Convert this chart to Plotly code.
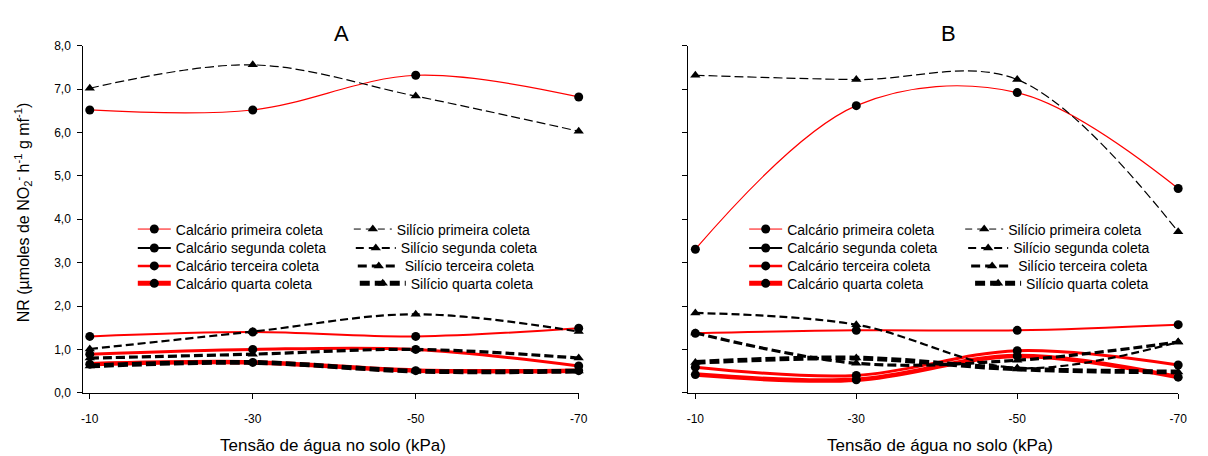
import plotly.graph_objects as go

W, H = 1208, 456

# ---------------- data ----------------
x_kpa = [-10, -30, -50, -70]
x_ticklabels = ["-10", "-30", "-50", "-70"]

calc_names = ["Calcário primeira coleta", "Calcário segunda coleta",
              "Calcário terceira coleta", "Calcário quarta coleta"]
sil_names = ["Silício primeira coleta", "Silício segunda coleta",
             "Silício terceira coleta", "Silício quarta coleta"]

# Panel A
calc1_A = [6.52, 6.52, 7.32, 6.82]
calc2_A = [1.30, 1.40, 1.30, 1.49]
calc3_A = [0.89, 1.00, 1.00, 0.62]
calc4_A = [0.66, 0.70, 0.51, 0.51]
sil1_A = [7.02, 7.56, 6.84, 6.03]
sil2_A = [1.01, 1.41, 1.81, 1.41]
sil3_A = [0.80, 0.89, 1.00, 0.80]
sil4_A = [0.62, 0.70, 0.50, 0.50]

# Panel B
calc1_B = [3.31, 6.62, 6.92, 4.71]
calc2_B = [1.37, 1.44, 1.44, 1.57]
calc3_B = [0.59, 0.40, 0.97, 0.64]
calc4_B = [0.42, 0.30, 0.85, 0.36]
sil1_B = [7.32, 7.22, 7.22, 3.71]
sil2_B = [1.84, 1.57, 0.57, 1.17]
sil3_B = [1.38, 0.68, 0.75, 1.17]
sil4_B = [0.70, 0.80, 0.55, 0.48]

FONT = "Arial, 'Liberation Sans', sans-serif"
RED = "#ff0000"
BLK = "#000000"

# styles of plotted lines (colour, width, dash)
calc_plot_style = [(RED, 1.2, "solid"), (RED, 2.0, "solid"), (RED, 3.0, "solid"), (RED, 4.5, "solid")]
sil_plot_style = [(BLK, 1.2, "9px,4px"), (BLK, 2.2, "8px,4px"), (BLK, 3.2, "9px,4px"), (BLK, 4.8, "10px,4px")]
# styles shown in the legend
calc_leg_style = [(RED, 1.0, "solid"), (BLK, 2.0, "solid"), (RED, 2.5, "solid"), (RED, 5.0, "solid")]
sil_leg_style = [(BLK, 1.0, "7px,5px"), (BLK, 2.0, "8px,5px"), (BLK, 3.0, "9px,5px"), (BLK, 5.0, "10px,5px")]

fig = go.Figure()

def add_panel(xa, ya, calc, sil):
    for vals, (c, w, d) in zip(calc, calc_plot_style):
        fig.add_trace(go.Scatter(
            x=x_kpa, y=vals, xaxis=xa, yaxis=ya, mode="lines+markers",
            line=dict(color=c, width=w, dash=d, shape="spline", smoothing=1.0),
            marker=dict(symbol="circle", size=9, color=BLK),
            showlegend=False, cliponaxis=False, hoverinfo="skip"))
    for vals, (c, w, d) in zip(sil, sil_plot_style):
        fig.add_trace(go.Scatter(
            x=x_kpa, y=vals, xaxis=xa, yaxis=ya, mode="lines+markers",
            line=dict(color=c, width=w, dash=d, shape="spline", smoothing=1.0),
            marker=dict(symbol="triangle-up", size=9, color=BLK),
            showlegend=False, cliponaxis=False, hoverinfo="skip"))

add_panel("x", "y", [calc1_A, calc2_A, calc3_A, calc4_A], [sil1_A, sil2_A, sil3_A, sil4_A])
add_panel("x2", "y2", [calc1_B, calc2_B, calc3_B, calc4_B], [sil1_B, sil2_B, sil3_B, sil4_B])


def px(x):
    return x / W


def py(y):
    return 1 - y / H


# one single-entry legend per legend row, so each row can be placed freely
row_y = [229.5, 249.0, 267.5, 285.5]
leg_common = dict(bgcolor="rgba(0,0,0,0)", borderwidth=0, font=dict(family=FONT, size=14, color=BLK),
                  yanchor="middle", xanchor="left", itemclick=False, itemdoubleclick=False)

legend_layout = {}
leg_counter = [0]

def add_legend(xa, ya, names, styles, symbol, lefts, widths):
    for name, (c, w, d), left, iw, ry in zip(names, styles, lefts, widths, row_y):
        leg_counter[0] += 1
        lid = "legend" if leg_counter[0] == 1 else "legend%d" % leg_counter[0]
        fig.add_trace(go.Scatter(
            x=[None], y=[None], xaxis=xa, yaxis=ya, mode="lines+markers", name=name,
            line=dict(color=c, width=w, dash=d),
            marker=dict(symbol=symbol, size=9, color=BLK),
            legend=lid, showlegend=True))
        legend_layout[lid] = dict(x=px(left), y=py(ry), itemwidth=iw, **leg_common)

add_legend("x", "y", calc_names, calc_leg_style, "circle",
           [132, 132, 132, 132], [33, 33, 33, 33])
add_legend("x", "y", sil_names, sil_leg_style, "triangle-up",
           [350, 352, 354, 356], [38, 40, 42, 46])
add_legend("x2", "y2", calc_names, calc_leg_style, "circle",
           [749, 749, 749, 749], [33, 33, 33, 33])
add_legend("x2", "y2", sil_names, sil_leg_style, "triangle-up",
           [967, 970, 973, 977], [38, 40, 42, 46])

axis_common = dict(showline=True, linecolor=BLK, linewidth=1, showgrid=False, zeroline=False,
                   ticks="outside", ticklen=5, tickcolor=BLK, tickwidth=1,
                   tickfont=dict(family=FONT, size=12, color=BLK))

fig.update_layout(
    width=W, height=H, autosize=False,
    margin=dict(l=0, r=0, t=0, b=0),
    paper_bgcolor="white", plot_bgcolor="white",
    separators=",.",
    font=dict(family=FONT, color=BLK),
    xaxis=dict(domain=[px(82), px(582)], range=[-9.2, -70], tickvals=x_kpa, ticktext=x_ticklabels,
               anchor="y", ticklabelstandoff=10, **axis_common),
    yaxis=dict(domain=[py(398), py(40)], range=[0, 8], dtick=1, tick0=0, tickformat=".1f",
               anchor="x", ticklabelstandoff=4, **axis_common),
    xaxis2=dict(domain=[px(692), px(1187)], range=[-9.05, -70], tickvals=x_kpa, ticktext=x_ticklabels,
                anchor="y2", ticklabelstandoff=10, **axis_common),
    yaxis2=dict(domain=[py(398), py(40)], range=[0, 8], dtick=1, tick0=0, showticklabels=False,
                anchor="x2", **axis_common),
    annotations=[
        dict(text="A", x=px(343), y=py(27), xref="paper", yref="paper", showarrow=False,
             font=dict(family=FONT, size=22, color=BLK), xanchor="center", yanchor="middle"),
        dict(text="B", x=px(955), y=py(27), xref="paper", yref="paper", showarrow=False,
             font=dict(family=FONT, size=22, color=BLK), xanchor="center", yanchor="middle"),
        dict(text="Tensão de água no solo (kPa)", x=px(334), y=py(452), xref="paper", yref="paper",
             showarrow=False, font=dict(family=FONT, size=17, color=BLK), xanchor="center", yanchor="middle"),
        dict(text="Tensão de água no solo (kPa)", x=px(947), y=py(452), xref="paper", yref="paper",
             showarrow=False, font=dict(family=FONT, size=17, color=BLK), xanchor="center", yanchor="middle"),
        dict(text="NR (µmoles de NO<sub>2</sub><sup>-</sup> h<sup>-1</sup> g mf<sup>-1</sup>)",
             x=px(22), y=py(212), xref="paper", yref="paper", showarrow=False, textangle=-90,
             font=dict(family=FONT, size=16, color=BLK), xanchor="center", yanchor="middle"),
    ],
)
fig.update_layout(**legend_layout)

fig.write_html("out.html")
